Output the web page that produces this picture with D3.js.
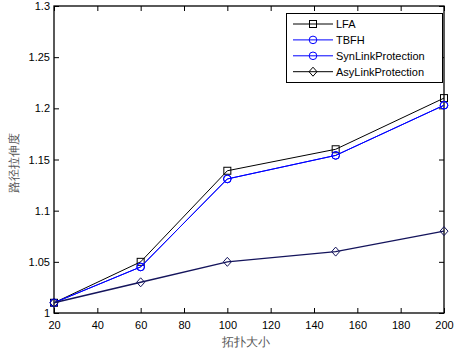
<!DOCTYPE html>
<html>
<head>
<meta charset="utf-8">
<script src="https://d3js.org/d3.v7.min.js"></script>
<style>
  body { margin: 0; background: #fff; }
  text { font-family: "Liberation Sans", Arial, sans-serif; }
</style>
</head>
<body>
<div id="chart"></div>
<script>
// data
let topoSizes = [20, 60, 100, 150, 200];
let lfa = [1.01, 1.05, 1.139, 1.16, 1.21];
let tbfh = [1.01, 1.045, 1.131, 1.154, 1.203];
let synLink = [1.01, 1.045, 1.131, 1.154, 1.203];
let asyLink = [1.01, 1.03, 1.05, 1.06, 1.08];
let xTicks = [20, 40, 60, 80, 100, 120, 140, 160, 180, 200];
let yTicks = [1, 1.05, 1.1, 1.15, 1.2, 1.25, 1.3];
let seriesNames = ["LFA", "TBFH", "SynLinkProtection", "AsyLinkProtection"];

let series = [
    { name: seriesNames[0], values: lfa, color: "#000", marker: "square", width: 1 },
    { name: seriesNames[1], values: tbfh, color: "#0000ff", marker: "circle", width: 1 },
    { name: seriesNames[2], values: synLink, color: "#0000ff", marker: "circle", width: 1 },
    { name: seriesNames[3], values: asyLink, color: "#14145c", marker: "diamond", width: 1.4 }
];

let W = 455, H = 354;
let plot = { left: 54, right: 444, top: 6, bottom: 313 };

let svg = d3.select("#chart").append("svg")
    .attr("width", W)
    .attr("height", H);

let x = d3.scaleLinear().domain([20, 200]).range([plot.left, plot.right]);
let y = d3.scaleLinear().domain([1, 1.3]).range([plot.bottom, plot.top]);

// box
svg.append("rect")
    .attr("x", plot.left).attr("y", plot.top)
    .attr("width", plot.right - plot.left).attr("height", plot.bottom - plot.top)
    .attr("fill", "none").attr("stroke", "#000").attr("stroke-width", 1.3);

let fmt = d => String(d);

// ticks (inward, on all four sides)
let tl = 5;
svg.append("g").attr("transform", `translate(0,${plot.bottom})`)
    .call(d3.axisBottom(x).tickValues(xTicks).tickSizeInner(-tl).tickSizeOuter(0).tickPadding(8).tickFormat(fmt))
    .call(g => g.select(".domain").remove());
svg.append("g").attr("transform", `translate(0,${plot.top})`)
    .call(d3.axisTop(x).tickValues(xTicks).tickSizeInner(-tl).tickSizeOuter(0).tickFormat(""))
    .call(g => g.select(".domain").remove());
svg.append("g").attr("transform", `translate(${plot.left},0)`)
    .call(d3.axisLeft(y).tickValues(yTicks).tickSizeInner(-tl).tickSizeOuter(0).tickPadding(4).tickFormat(fmt))
    .call(g => g.select(".domain").remove());
svg.append("g").attr("transform", `translate(${plot.right},0)`)
    .call(d3.axisRight(y).tickValues(yTicks).tickSizeInner(-tl).tickSizeOuter(0).tickFormat(""))
    .call(g => g.select(".domain").remove());

svg.selectAll(".tick text")
    .attr("font-size", 11)
    .attr("font-family", "Liberation Sans, Arial, sans-serif")
    .attr("fill", "#000");
svg.selectAll(".tick line").attr("stroke", "#000");

// lines
let line = d3.line()
    .x((d, i) => x(topoSizes[i]))
    .y(d => y(d));

function drawMarker(g, type, cx, cy, color) {
    if (type === "square") {
        g.append("rect").attr("x", cx - 3.5).attr("y", cy - 3.5)
            .attr("width", 7).attr("height", 7)
            .attr("fill", "none").attr("stroke", color);
    } else if (type === "circle") {
        g.append("circle").attr("cx", cx).attr("cy", cy).attr("r", 3.8)
            .attr("fill", "none").attr("stroke", color);
    } else {
        g.append("path")
            .attr("d", `M${cx},${cy - 4.5}L${cx + 4},${cy}L${cx},${cy + 4.5}L${cx - 4},${cy}Z`)
            .attr("fill", "none").attr("stroke", color);
    }
}

series.forEach(s => {
    let g = svg.append("g");
    g.append("path")
        .attr("d", line(s.values))
        .attr("fill", "none")
        .attr("stroke", s.color)
        .attr("stroke-width", s.width);
    s.values.forEach((v, i) => drawMarker(g, s.marker, x(topoSizes[i]), y(v), s.color));
});

// legend
let lg = svg.append("g");
lg.append("rect")
    .attr("x", 286.5).attr("y", 13.5)
    .attr("width", 156).attr("height", 69)
    .attr("fill", "#fff").attr("stroke", "#000");
series.forEach((s, i) => {
    let ly = 24 + i * 15.9;
    let c = i === 3 ? "#000" : s.color;
    lg.append("line")
        .attr("x1", 293).attr("x2", 333)
        .attr("y1", ly).attr("y2", ly)
        .attr("stroke", c);
    drawMarker(lg, s.marker, 313, ly, c);
    lg.append("text")
        .attr("x", 336).attr("y", ly + 4)
        .attr("font-size", 11)
        .attr("fill", "#000")
        .text(s.name);
});

// axis titles
svg.append("text")
    .attr("x", 246).attr("y", 346)
    .attr("text-anchor", "middle")
    .attr("font-size", 12)
    .attr("font-family", "Noto Sans CJK SC, sans-serif")
    .attr("fill", "#555")
    .text("拓扑大小");

svg.append("text")
    .attr("transform", "translate(18,163) rotate(-90)")
    .attr("text-anchor", "middle")
    .attr("font-size", 12)
    .attr("font-family", "Noto Sans CJK SC, sans-serif")
    .attr("fill", "#555")
    .text("路径拉伸度");
</script>
</body>
</html>
